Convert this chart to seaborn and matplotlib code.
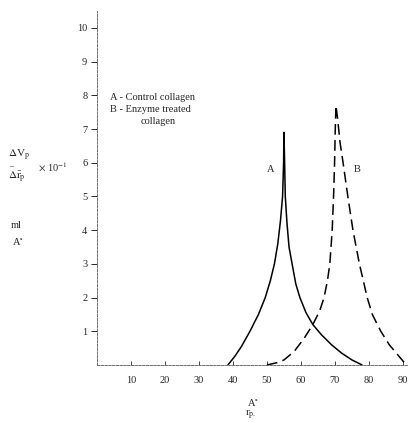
import matplotlib
matplotlib.use("Agg")
import matplotlib.pyplot as plt
import seaborn as sns
import pandas as pd

# Curve A - control collagen (solid)
a_x = [38.5, 40.5, 42.5, 45.0, 47.5, 49.5, 51.0, 52.2, 53.2, 54.0, 54.6, 54.9, 55.0,
       55.2, 55.4, 55.9, 56.5, 57.4, 58.5, 59.7, 61.5, 63.5, 66.0, 69.0, 72.0, 75.0, 78.0]
a_y = [0, 0.25, 0.55, 1.0, 1.5, 2.0, 2.5, 3.0, 3.6, 4.3, 5.0, 6.0, 6.9,
       6.0, 5.0, 4.2, 3.5, 3.0, 2.4, 2.0, 1.55, 1.2, 0.9, 0.6, 0.35, 0.15, 0]

# Curve B - enzyme treated collagen (dashed)
b_x = [50.0, 53.0, 55.0, 58.0, 61.0, 63.5, 65.5, 66.8, 67.8, 68.5, 69.2, 69.6, 69.9, 70.1, 70.3,
       70.8, 71.5, 72.4, 73.8, 75.3, 77.2, 79.5, 81.0, 83.5, 86.0, 88.5, 91.0]
b_y = [0, 0.07, 0.15, 0.4, 0.8, 1.2, 1.6, 2.0, 2.5, 3.0, 4.0, 5.0, 6.0, 7.0, 7.7,
       7.3, 6.6, 6.0, 5.0, 4.0, 3.0, 2.0, 1.5, 1.0, 0.6, 0.3, 0]

x_ticks = [10, 20, 30, 40, 50, 60, 70, 80, 90]
y_ticks = [1, 2, 3, 4, 5, 6, 7, 8, 9, 10]

sns.set_theme(style="white")
plt.rcParams['font.family'] = ['Liberation Serif', 'DejaVu Serif']
plt.rcParams['mathtext.fontset'] = 'stix'

df_a = pd.DataFrame({"r": a_x, "v": a_y})
df_b = pd.DataFrame({"r": b_x, "v": b_y})

fig = plt.figure(figsize=(4.08, 4.23), dpi=100)
ax = fig.add_axes([97 / 408, 58 / 423, 311 / 408, 354 / 423])

sns.lineplot(data=df_a, x="r", y="v", ax=ax, color="black", lw=1.1,
             sort=False, estimator=None)
sns.lineplot(data=df_b, x="r", y="v", ax=ax, color="black", lw=1.1,
             sort=False, estimator=None, linestyle=(0, (7, 3.5)))

ax.set_xlim(0, 91.5)
ax.set_ylim(0, 10.5)
ax.set_xticks(x_ticks)
ax.set_yticks(y_ticks)
ax.set_xticklabels([str(t) for t in x_ticks], fontsize=7.5)
ax.set_yticklabels([str(t) for t in y_ticks], fontsize=7.5)
ax.tick_params(axis="y", direction="out", length=4, width=0.7, pad=3, left=True)
ax.tick_params(axis="x", direction="in", length=3, width=0.6, pad=8, bottom=True)
ax.set_xlabel("")
ax.set_ylabel("")

for s in ["top", "right"]:
    ax.spines[s].set_visible(False)
for s in ["left", "bottom"]:
    ax.spines[s].set_color("#555555")
    ax.spines[s].set_linewidth(0.6)
    ax.spines[s].set_linestyle((0, (3, 1.5)))

# curve labels
ax.text(51, 5.8, "A", fontsize=7.5, ha="center", va="center")
ax.text(76.5, 5.8, "B", fontsize=7.5, ha="center", va="center")

# legend text
fig.text(110 / 408, 1 - 98 / 423, "A - Control collagen", fontsize=7.5, va="center")
fig.text(110 / 408, 1 - 110 / 423, "B - Enzyme treated", fontsize=7.5, va="center")
fig.text(141 / 408, 1 - 121 / 423, "collagen", fontsize=7.5, va="center")

# y axis label
fig.text(8 / 408, 1 - 155 / 423, r"$\Delta$V$_{\rm p}$", fontsize=8, va="center")
fig.text(9 / 408, 1 - 166 / 423, "–", fontsize=6, va="center")
fig.text(8 / 408, 1 - 177 / 423, r"$\Delta\bar{\rm r}_{\rm p}$", fontsize=8, va="center")
fig.text(38 / 408, 1 - 167 / 423, r"$\times$ 10$^{-1}$", fontsize=7.5, va="center")
fig.text(11 / 408, 1 - 225 / 423, "ml", fontsize=7.5, va="center")
fig.text(12 / 408, 1 - 242 / 423, "A$^{\\circ}$", fontsize=7.5, va="center")

# x axis label
fig.text(247 / 408, 1 - 403 / 423, "A$^{\\circ}$", fontsize=7.5, va="center")
fig.text(245 / 408, 1 - 415 / 423, r"r$_{\rm p.}$", fontsize=8, va="center")

fig.savefig("out.png", dpi=100)
